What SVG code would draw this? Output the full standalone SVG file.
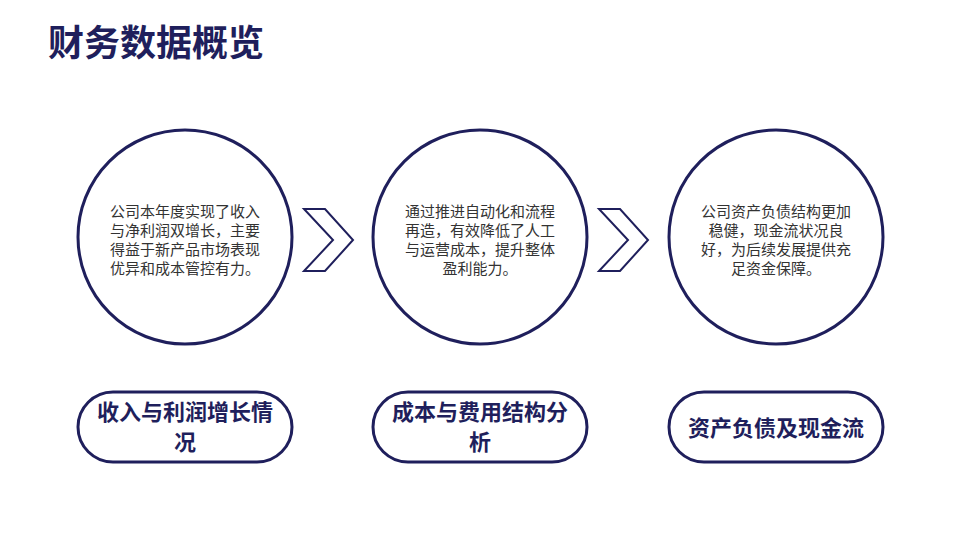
<svg xmlns="http://www.w3.org/2000/svg" width="960" height="540" viewBox="0 0 960 540">
<style>
.c{fill:#fff;stroke:#1f1f5c;stroke-width:3}
.ch{fill:#fff;stroke:#1f1f5c;stroke-width:2}
.t{font-family:"Noto Sans CJK SC","Liberation Sans",sans-serif;font-size:15px;fill:#333;text-anchor:middle}
.p{font-family:"Noto Sans CJK SC","Liberation Sans",sans-serif;font-size:22px;font-weight:bold;fill:#1f1f5c;text-anchor:middle}
</style>
<rect width="960" height="540" fill="#fff"/>
<text x="48" y="56" font-family="Noto Sans CJK SC,Liberation Sans,sans-serif" font-size="36" font-weight="bold" fill="#1f1f5c">财务数据概览</text>
<g id="connectors">
<polygon class="ch" points="304,209 325,209 353,240 325,271 304,271 333,240"/>
<polygon class="ch" points="599,209 620,209 648,240 620,271 599,271 628,240"/>
</g>
<g id="node1">
<circle class="c" cx="185" cy="237" r="107"/>
<text class="t"><tspan x="185" y="217">公司本年度实现了收入</tspan><tspan x="185" y="236">与净利润双增长，主要</tspan><tspan x="185" y="255">得益于新产品市场表现</tspan><tspan x="185" y="274">优异和成本管控有力。</tspan></text>
</g>
<g id="node2">
<circle class="c" cx="480" cy="237" r="107"/>
<text class="t"><tspan x="480" y="217">通过推进自动化和流程</tspan><tspan x="480" y="236">再造，有效降低了人工</tspan><tspan x="480" y="255">与运营成本，提升整体</tspan><tspan x="480" y="274">盈利能力。</tspan></text>
</g>
<g id="node3">
<circle class="c" cx="776" cy="237" r="107"/>
<text class="t"><tspan x="776" y="217">公司资产负债结构更加</tspan><tspan x="776" y="236">稳健，现金流状况良</tspan><tspan x="776" y="255">好，为后续发展提供充</tspan><tspan x="776" y="274">足资金保障。</tspan></text>
</g>
<g id="pill1">
<rect class="c" x="78" y="392" width="214" height="70" rx="35"/>
<text class="p"><tspan x="185" y="420">收入与利润增长情</tspan><tspan x="185" y="450">况</tspan></text>
</g>
<g id="pill2">
<rect class="c" x="373" y="392" width="214" height="70" rx="35"/>
<text class="p"><tspan x="480" y="420">成本与费用结构分</tspan><tspan x="480" y="450">析</tspan></text>
</g>
<g id="pill3">
<rect class="c" x="669" y="392" width="214" height="70" rx="35"/>
<text class="p"><tspan x="776" y="436">资产负债及现金流</tspan></text>
</g>
</svg>
